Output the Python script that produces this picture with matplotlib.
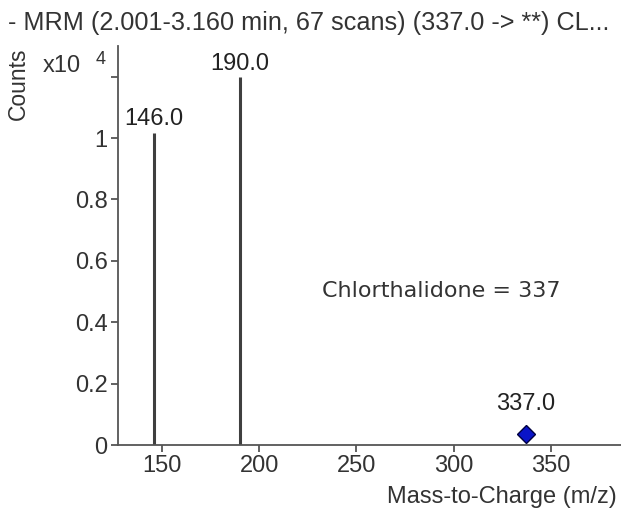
import matplotlib
matplotlib.use("Agg")
import matplotlib.pyplot as plt
import numpy as np

# Data (counts)
peak_mz = [146.0, 190.0]
peak_counts = [10160, 12000]
precursor_mz = [337.0]
precursor_counts = [360]
peak_labels = ["146.0", "190.0"]
precursor_labels = ["337.0"]
x_ticks = [150, 200, 250, 300, 350]
y_ticks = [0, 0.2, 0.4, 0.6, 0.8, 1.0, 1.2]
y_ticklabels = ["0", "0.2", "0.4", "0.6", "0.8", "1", ""]
title_text = "- MRM (2.001-3.160 min, 67 scans) (337.0 -> **) CL..."
annot_text = "Chlorthalidone = 337"
scale = 1e4

W, H = 621, 512
fig = plt.figure(figsize=(W / 100, H / 100), dpi=100)
fig.patch.set_facecolor("white")
font = "Liberation Sans"
gray = "#3f3f3f"
tcol = "#333333"

ax_l, ax_r, ax_b, ax_t = 118, 621, 445, 46
ax = fig.add_axes([ax_l / W, 1 - ax_b / H, (ax_r - ax_l) / W, (ax_b - ax_t) / H])
ax.set_xlim(127.4, 386.0)
ax.set_ylim(0, 1.30)

ax.vlines(peak_mz, 0, np.array(peak_counts) / scale, color=gray, lw=2.2)
offsets = [5.8, 5.0]
for mz, c, lab, off in zip(peak_mz, peak_counts, peak_labels, offsets):
    ax.annotate(lab, (mz, c / scale), xytext=(0, off), textcoords="offset points",
                ha="center", va="baseline", fontsize=17, family=font, color="#222222")
ax.plot(precursor_mz, np.array(precursor_counts) / scale, marker="D", ms=9,
        color="#0a14c8", mec="#000040", mew=1, ls="none", clip_on=False)
for mz, c, lab in zip(precursor_mz, precursor_counts, precursor_labels):
    ax.annotate(lab, (mz, c / scale), xytext=(0, 17), textcoords="offset points",
                ha="center", va="baseline", fontsize=17, family=font, color="#222222")

for s in ["top", "right"]:
    ax.spines[s].set_visible(False)
for s in ["left", "bottom"]:
    ax.spines[s].set_color("#555555")
    ax.spines[s].set_linewidth(1.3)

ax.set_xticks(x_ticks)
ax.set_xticklabels([str(v) for v in x_ticks])
ax.set_yticks(y_ticks)
ax.set_yticklabels(y_ticklabels)
ax.tick_params(axis="both", direction="out", length=5, width=1.3, color="#555555",
               labelsize=17, labelcolor=tcol, pad=2.5)
for lbl in ax.get_xticklabels() + ax.get_yticklabels():
    lbl.set_family(font)

fig.text(617 / W, 1 - 497 / H, "Mass-to-Charge (m/z)", ha="right", va="center",
         fontsize=17, family=font, color=tcol)
fig.text(18 / W, 1 - 84 / H, "Counts", rotation=90, ha="center", va="center",
         fontsize=16.5, family=font, color=tcol)
fig.text(43 / W, 1 - 66 / H, "x10", ha="left", va="center",
         fontsize=17, family=font, color=tcol)
fig.text(96 / W, 1 - 60 / H, "4", ha="left", va="center",
         fontsize=13, family=font, color=tcol)
fig.text(8 / W, 1 - 23 / H, title_text, ha="left", va="center",
         fontsize=18.2, family=font, color=tcol)
fig.text(322 / W, 1 - 291 / H, annot_text, ha="left", va="center",
         fontsize=16, family="DejaVu Sans", color=tcol)

fig.savefig("out.png", dpi=100, facecolor="white")
